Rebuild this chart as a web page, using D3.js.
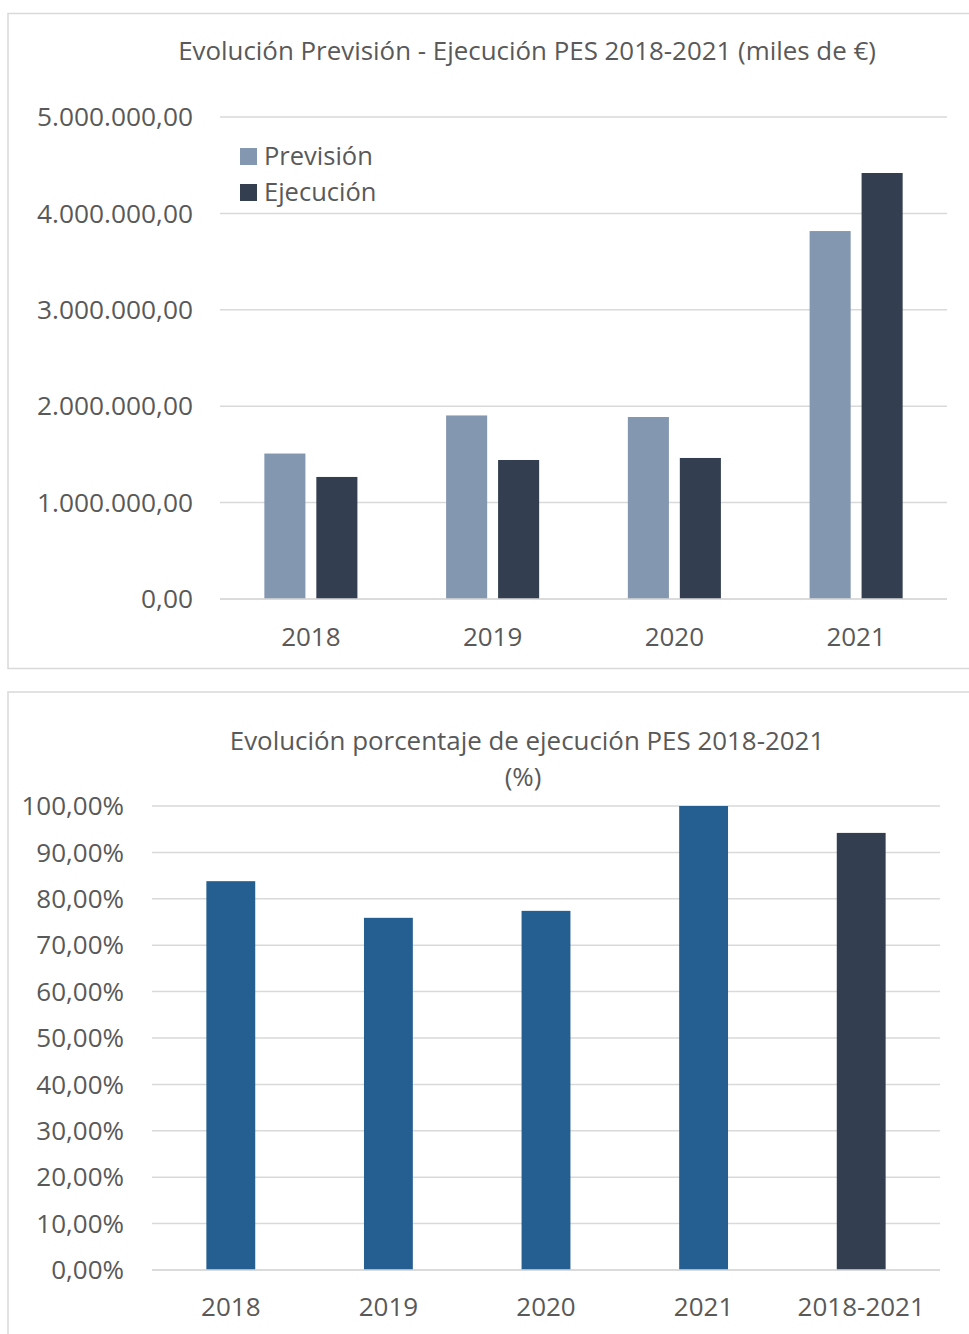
<!DOCTYPE html>
<html>
<head>
<meta charset="utf-8">
<script src="https://cdn.jsdelivr.net/npm/d3@7/dist/d3.min.js"></script>
<style>
  html, body { margin: 0; padding: 0; background: #fff; }
  svg { display: block; }
  text { font-family: "Open Sans", "Noto Sans", sans-serif; fill: #595959; }
</style>
</head>
<body>
<svg id="chart" width="969" height="1334"></svg>
<script>
// ---- Data (chart 1: miles de €) ----
const years = ["2018", "2019", "2020", "2021"];
const seriesNames = ["Previsión", "Ejecución"];
const prevision = [1509000, 1904000, 1888000, 3817000];
const ejecucion = [1266000, 1442000, 1463000, 4419000];
const yTicks1 = [0, 1000000, 2000000, 3000000, 4000000, 5000000];

// ---- Data (chart 2: %) ----
const pctCategories = ["2018", "2019", "2020", "2021", "2018-2021"];
const pctValues = [83.8, 75.9, 77.4, 100.0, 94.2];
const yTicks2 = [0, 10, 20, 30, 40, 50, 60, 70, 80, 90, 100];

const colors = { "Previsión": "#8497B0", "Ejecución": "#333F50" };
const pctColors = ["#255E91", "#255E91", "#255E91", "#255E91", "#333F50"];

const svg = d3.select("#chart");
const esFmt = d3.formatLocale({ decimal: ",", thousands: ".", grouping: [3], currency: ["", " €"] });
const fmt2 = esFmt.format(",.2f");

// ---- Frames ----
svg.append("rect").attr("x", 8).attr("y", 13.5).attr("width", 975).attr("height", 655)
  .attr("fill", "none").attr("stroke", "#D9D9D9").attr("stroke-width", 1.5);
svg.append("rect").attr("x", 8).attr("y", 692).attr("width", 975).attr("height", 700)
  .attr("fill", "none").attr("stroke", "#D9D9D9").attr("stroke-width", 1.5);

// ================= Chart 1 =================
const c1 = { left: 220, right: 947, top: 117, bottom: 599 };
const x0 = d3.scaleBand().domain(years).range([c1.left, c1.right]).paddingInner(0.488).paddingOuter(0.244);
const x1 = d3.scaleBand().domain(seriesNames).range([0, x0.bandwidth()]).paddingInner(0.21);
const y1 = d3.scaleLinear().domain([0, 5000000]).range([c1.bottom, c1.top]);

svg.append("text").attr("x", 527).attr("y", 60).attr("text-anchor", "middle")
  .attr("font-size", 25.9).text("Evolución Previsión - Ejecución PES 2018-2021 (miles de €)");

const g1 = svg.append("g");
g1.selectAll("line.grid").data(yTicks1).join("line")
  .attr("x1", c1.left).attr("x2", c1.right)
  .attr("y1", d => y1(d)).attr("y2", d => y1(d))
  .attr("stroke", "#D9D9D9").attr("stroke-width", 1.5);
g1.selectAll("text.ylab").data(yTicks1).join("text")
  .attr("x", 193).attr("y", d => y1(d)).attr("dy", "0.35em")
  .attr("text-anchor", "end").attr("font-size", 26.3).text(d => fmt2(d));
const rows = years.map((yr, i) => ({ year: yr, vals: [
  { name: "Previsión", value: prevision[i] },
  { name: "Ejecución", value: ejecucion[i] }] }));
const groups = g1.selectAll("g.grp").data(rows).join("g")
  .attr("transform", d => `translate(${x0(d.year)},0)`);
groups.selectAll("rect").data(d => d.vals).join("rect")
  .attr("x", d => x1(d.name)).attr("width", x1.bandwidth())
  .attr("y", d => y1(d.value)).attr("height", d => y1(0) - y1(d.value))
  .attr("fill", d => colors[d.name]);
g1.append("line").attr("x1", c1.left).attr("x2", c1.right).attr("y1", y1(0)).attr("y2", y1(0))
  .attr("stroke", "#D9D9D9").attr("stroke-width", 1.5);
g1.selectAll("text.xlab").data(years).join("text")
  .attr("x", d => x0(d) + x0.bandwidth() / 2).attr("y", 637).attr("dy", "0.35em")
  .attr("text-anchor", "middle").attr("font-size", 26).text(d => d);
const leg = g1.selectAll("g.leg").data(seriesNames).join("g")
  .attr("transform", (d, i) => `translate(240,${148 + i * 36})`);
leg.append("rect").attr("width", 17).attr("height", 17).attr("fill", d => colors[d]);
leg.append("text").attr("x", 24).attr("y", 8.5).attr("dy", "0.35em").attr("font-size", 25.5).text(d => d);

// ================= Chart 2 =================
const c2 = { left: 152, right: 940, top: 806, bottom: 1270 };
const xb = d3.scaleBand().domain(pctCategories).range([c2.left, c2.right]).paddingInner(0.69).paddingOuter(0.345);
const y2 = d3.scaleLinear().domain([0, 100]).range([c2.bottom, c2.top]);

svg.append("text").attr("x", 527).attr("y", 750).attr("text-anchor", "middle")
  .attr("font-size", 25.9).text("Evolución porcentaje de ejecución PES 2018-2021");
svg.append("text").attr("x", 523).attr("y", 786).attr("text-anchor", "middle")
  .attr("font-size", 25.9).text("(%)");

const g2 = svg.append("g");
g2.selectAll("line.grid").data(yTicks2).join("line")
  .attr("x1", c2.left).attr("x2", c2.right)
  .attr("y1", d => y2(d)).attr("y2", d => y2(d))
  .attr("stroke", "#D9D9D9").attr("stroke-width", 1.5);
g2.selectAll("text.ylab").data(yTicks2).join("text")
  .attr("x", 124).attr("y", d => y2(d)).attr("dy", "0.35em")
  .attr("text-anchor", "end").attr("font-size", 26)
  .text(d => esFmt.format(",.2f")(d) + "%");
g2.selectAll("rect.bar").data(pctValues).join("rect")
  .attr("x", (d, i) => xb(pctCategories[i])).attr("width", xb.bandwidth())
  .attr("y", d => y2(d)).attr("height", d => y2(0) - y2(d))
  .attr("fill", (d, i) => pctColors[i]);
g2.append("line").attr("x1", c2.left).attr("x2", c2.right).attr("y1", y2(0)).attr("y2", y2(0))
  .attr("stroke", "#D9D9D9").attr("stroke-width", 1.5);
g2.selectAll("text.xlab").data(pctCategories).join("text")
  .attr("x", d => xb(d) + xb.bandwidth() / 2).attr("y", 1307).attr("dy", "0.35em")
  .attr("text-anchor", "middle").attr("font-size", 26).text(d => d);
</script>
</body>
</html>
